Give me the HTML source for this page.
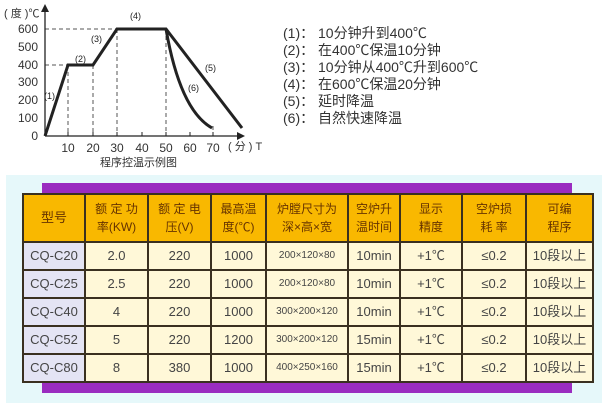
<!DOCTYPE html><html><head><meta charset="utf-8"><style>
body{margin:0;width:613px;height:416px;background:#fff;overflow:hidden;position:relative;font-family:"Liberation Sans","Noto Sans CJK SC",sans-serif}
.lg{position:absolute;left:283px;font-size:14px;color:#333;line-height:17px;white-space:pre}
table{position:absolute;left:22px;top:193px;border-collapse:collapse;width:570px;font-size:13px;color:#444;table-layout:fixed}
td{border:2px solid #3a3020;text-align:center;background:#fff8d8;padding:0;height:26px;line-height:14px}
tr.h td{background:#f9b800;height:46px;font-size:12px;line-height:18px;color:#663300}
td.m{background:#e4e4f4}
</style></head><body>
<div style="position:absolute;left:6px;top:175px;width:596px;height:228px;background:#e6f8fa"></div>
<div style="position:absolute;left:42px;top:183px;width:530px;height:12px;background:#9a2cc0"></div>
<div style="position:absolute;left:42px;top:382px;width:530px;height:11px;background:#9a2cc0"></div>
<svg width="280" height="170" style="position:absolute;left:0;top:0" font-family="Liberation Sans,Noto Sans CJK SC,sans-serif">
<g stroke="#555" stroke-dasharray="4,3" stroke-width="1" fill="none">
<path d="M45 65H68M45 29H117M68 65V136M93 65V136M117 29V136M166 29V136M213 126V136"/>
</g>
<path d="M45 136H240M45 136V10" stroke="#222" stroke-width="1.3"/>
<path d="M245 136l-8-4v8zM45 4l-4 8h8z" fill="#222"/>
<g stroke="#222" stroke-width="1"><path d="M68 136v-4M93 136v-4M117 136v-4M142 136v-4M166 136v-4M190 136v-4M213 136v-4"/></g>
<path d="M45 136L68 65H93L117 29H166L242 128" stroke="#222" stroke-width="3" fill="none"/>
<path d="M166 29Q180 110 212 128" stroke="#222" stroke-width="3" fill="none"/>
<g font-size="12" fill="#333" text-anchor="end"><text x="38" y="140">0</text><text x="38" y="122">100</text><text x="38" y="104">200</text><text x="38" y="86">300</text><text x="38" y="69">400</text><text x="38" y="51">500</text><text x="38" y="33">600</text></g>
<g font-size="12" fill="#333" text-anchor="middle"><text x="68" y="152">10</text><text x="93" y="152">20</text><text x="117" y="152">30</text><text x="142" y="152">40</text><text x="166" y="152">50</text><text x="190" y="152">60</text><text x="213" y="152">70</text></g>
<text x="4" y="17" font-size="11" fill="#333">( 度 )℃</text>
<text x="228" y="150" font-size="11" fill="#333">( 分 ) T</text>
<text x="100" y="166" font-size="11" fill="#333">程序控温示例图</text>
<g font-size="9" fill="#222"><text x="44" y="99">(1)</text><text x="75" y="62">(2)</text><text x="91" y="42">(3)</text><text x="130" y="19">(4)</text><text x="205" y="71">(5)</text><text x="188" y="91">(6)</text></g>
</svg>
<div class="lg" style="top:25px">(1)： 10分钟升到400℃
(2)： 在400℃保温10分钟
(3)： 10分钟从400℃升到600℃
(4)： 在600℃保温20分钟
(5)： 延时降温
(6)： 自然快速降温</div>
<table>
<colgroup><col style="width:62px"><col style="width:63px"><col style="width:63px"><col style="width:55px"><col style="width:82px"><col style="width:52px"><col style="width:62px"><col style="width:64px"><col style="width:67px"></colgroup>
<tr class="h"><td style="font-size:13px">型号</td><td>额 定 功<br>率(KW)</td><td>额 定 电<br>压(V)</td><td>最高温<br>度(℃)</td><td>炉膛尺寸为<br>深×高×宽</td><td>空炉升<br>温时间</td><td>显示<br>精度</td><td>空炉损<br>耗 率</td><td>可编<br>程序</td></tr>
<tr><td class="m">CQ-C20</td><td>2.0</td><td>220</td><td>1000</td><td style="font-size:10px">200×120×80</td><td>10min</td><td>+1℃</td><td>≤0.2</td><td>10段以上</td></tr>
<tr><td class="m">CQ-C25</td><td>2.5</td><td>220</td><td>1000</td><td style="font-size:10px">200×120×80</td><td>10min</td><td>+1℃</td><td>≤0.2</td><td>10段以上</td></tr>
<tr><td class="m">CQ-C40</td><td>4</td><td>220</td><td>1000</td><td style="font-size:10px">300×200×120</td><td>10min</td><td>+1℃</td><td>≤0.2</td><td>10段以上</td></tr>
<tr><td class="m">CQ-C52</td><td>5</td><td>220</td><td>1200</td><td style="font-size:10px">300×200×120</td><td>15min</td><td>+1℃</td><td>≤0.2</td><td>10段以上</td></tr>
<tr><td class="m">CQ-C80</td><td>8</td><td>380</td><td>1000</td><td style="font-size:10px">400×250×160</td><td>15min</td><td>+1℃</td><td>≤0.2</td><td>10段以上</td></tr>
</table>
</body></html>
